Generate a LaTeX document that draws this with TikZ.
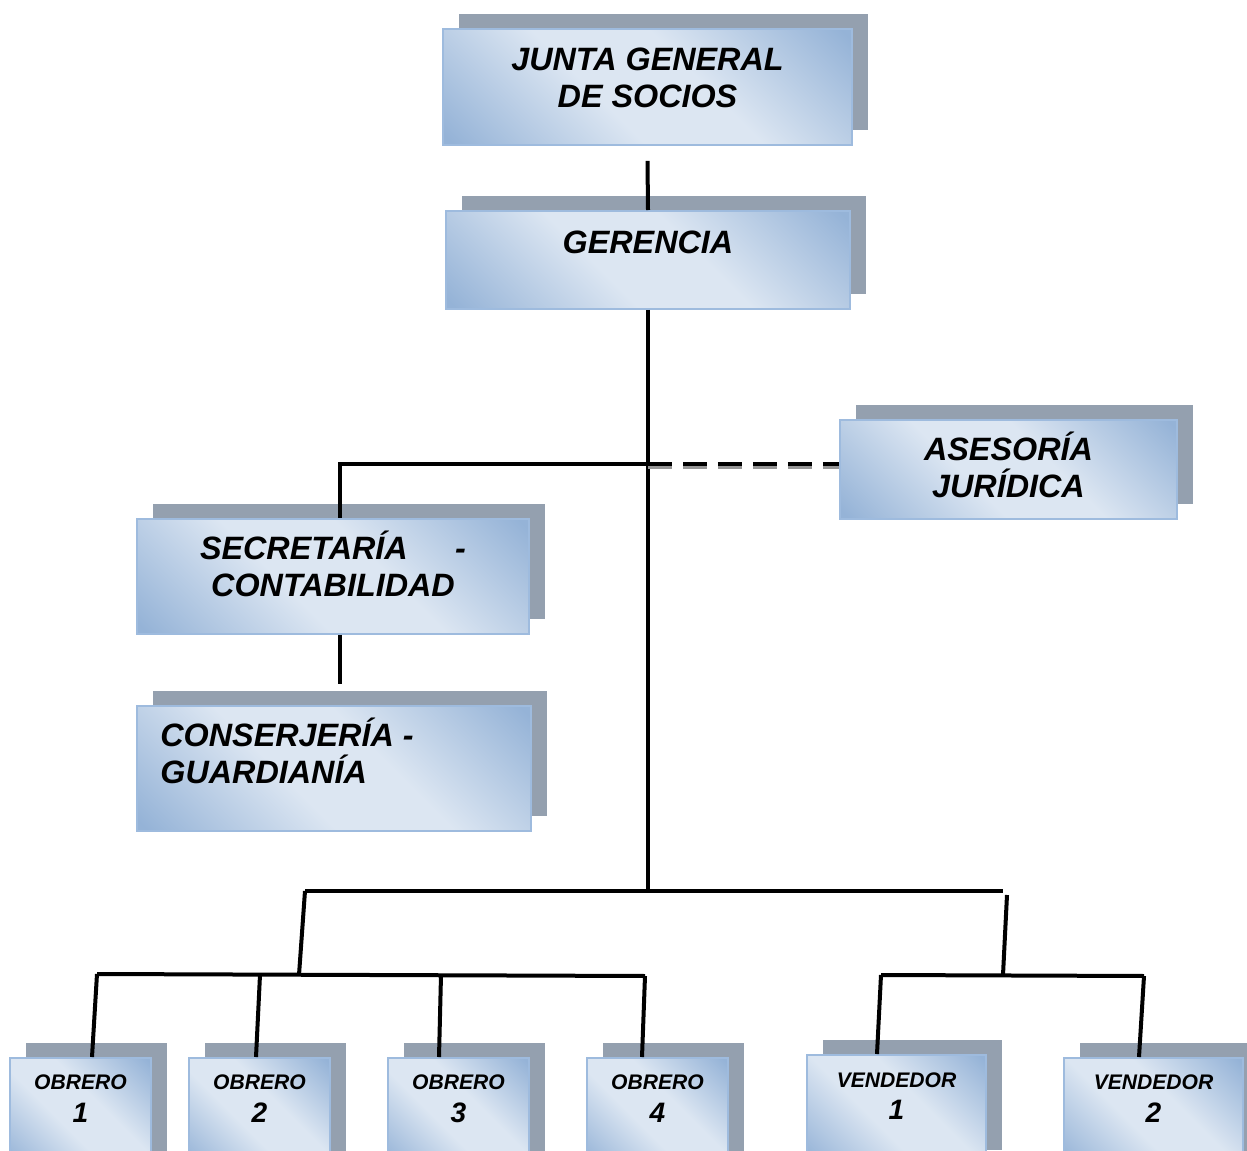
\documentclass[tikz,border=0pt]{standalone}
\usepackage{fontspec}
\setmainfont{Liberation Sans}
\usetikzlibrary{positioning,shadows}

\definecolor{boxlight}{RGB}{220,230,242}
\definecolor{boxdark}{RGB}{149,179,215}
\definecolor{boxline}{RGB}{158,187,222}
\definecolor{shadowgray}{RGB}{148,160,175}
\definecolor{dashgray}{RGB}{150,150,150}

\pgfdeclareverticalshading{boxgrad}{100bp}{color(0bp)=(boxdark); color(16bp)=(boxdark); color(42bp)=(boxlight); color(58bp)=(boxlight); color(84bp)=(boxdark); color(100bp)=(boxdark)}

\tikzset{
  orgbox/.style={rectangle, draw=boxline, line width=0.04cm, shade, shading=boxgrad, shading angle=-45,
    drop shadow={shadow xshift=0.32cm, shadow yshift=0.3cm, fill=shadowgray, opacity=1}, inner sep=0pt},
  bigtext/.style={inner sep=0pt, align=center, font=\fontsize{18.4}{21}\selectfont\bfseries\itshape},
  smalltext/.style={inner sep=0pt, align=center, font=\fontsize{12}{18.5}\selectfont\bfseries\itshape},
  conn/.style={line width=0.08cm, line join=miter},
}

\begin{document}
\begin{tikzpicture}[x=0.02cm, y=-0.02cm]
  \useasboundingbox (0,0) rectangle (1247,1151);
  \clip (0,0) rectangle (1247,1151);

  % boxes
  \node[orgbox, minimum width=8.18cm, minimum height=2.32cm] (junta) at (647.5,87) {};
  \node[orgbox, minimum width=8.08cm, minimum height=1.96cm] (gerencia) at (648,260) {};
  \node[orgbox, minimum width=6.74cm, minimum height=1.98cm] (asesoria) at (1008.5,469.5) {};
  \node[orgbox, minimum width=7.84cm, minimum height=2.30cm] (secretaria) at (333,576.5) {};
  \node[orgbox, minimum width=7.88cm, minimum height=2.50cm] (conserjeria) at (334,768.5) {};

  \node[orgbox, minimum width=2.82cm, minimum height=2.2cm] (obrero1) at (80.5,1113) {};
  \node[orgbox, minimum width=2.82cm, minimum height=2.2cm] (obrero2) at (259.5,1113) {};
  \node[orgbox, minimum width=2.82cm, minimum height=2.2cm] (obrero3) at (458.5,1113) {};
  \node[orgbox, minimum width=2.82cm, minimum height=2.2cm] (obrero4) at (657.5,1113) {};
  \node[orgbox, minimum width=3.58cm, minimum height=2.2cm] (vendedor1) at (896.5,1110) {};
  \node[orgbox, minimum width=3.58cm, minimum height=2.2cm] (vendedor2) at (1153.5,1113) {};

  % texts
  \node[bigtext, below=0.39cm of junta.north] (T_junta) {JUNTA GENERAL\\DE SOCIOS};
  \node[bigtext, below=0.41cm of gerencia.north] (T_gerencia) {GERENCIA};
  \node[bigtext, below=0.25cm of asesoria.north] (T_asesoria) {ASESORÍA\\JURÍDICA};
  \node[bigtext, below=0.26cm of secretaria.north] (T_secretaria) {SECRETARÍA\hspace{27pt}-\\CONTABILIDAD};
  \node[bigtext, align=left, below right=0.26cm and 0.48cm of conserjeria.north west] (T_conserjeria) {CONSERJERÍA -\\GUARDIANÍA};

  \node[smalltext, below=0.35cm of obrero1.north] (T_obrero1) {OBRERO\\{\fontsize{16}{19}\selectfont 1}};
  \node[smalltext, below=0.35cm of obrero2.north] (T_obrero2) {OBRERO\\{\fontsize{16}{19}\selectfont 2}};
  \node[smalltext, below=0.35cm of obrero3.north] (T_obrero3) {OBRERO\\{\fontsize{16}{19}\selectfont 3}};
  \node[smalltext, below=0.35cm of obrero4.north] (T_obrero4) {OBRERO\\{\fontsize{16}{19}\selectfont 4}};
  \node[smalltext, below=0.36cm of vendedor1.north] (T_vendedor1) {VENDEDOR\\{\fontsize{16}{19}\selectfont 1}};
  \node[smalltext, below=0.35cm of vendedor2.north] (T_vendedor2) {VENDEDOR\\{\fontsize{16}{19}\selectfont 2}};

  % junctions
  \coordinate (secJ) at (340,464);
  \coordinate (hub) at (647,891);
  \coordinate (hubL) at (305,891);
  \coordinate (hubR) at (1003,891);
  \coordinate (obJ) at (299,975);
  \coordinate (obL) at (97,974);
  \coordinate (obR) at (645,976);
  \coordinate (ob2) at (260,975);
  \coordinate (ob3) at (441,975);
  \coordinate (veTop) at (1007,895);
  \coordinate (veJ) at (1003,975);
  \coordinate (veL) at (881,975);
  \coordinate (veR) at (1144,976);

  % connectors
  \draw[conn] ([yshift=-0.3cm]junta.south) -- (gerencia.north);
  \draw[conn] (gerencia.south) -- (gerencia.south |- hub);
  \draw[conn] (gerencia.south |- secJ) -- (secJ) -- (secJ |- secretaria.north);
  \draw[dashgray, line width=0.08cm, dash pattern=on 0.48cm off 0.22cm] ([yshift=-0.06cm]gerencia.south |- secJ) -- ([yshift=-0.06cm]asesoria.west |- secJ);
  \draw[conn, dash pattern=on 0.48cm off 0.22cm] (gerencia.south |- secJ) -- (asesoria.west |- secJ);
  \draw[conn] (secJ |- secretaria.south) -- ([yshift=0.42cm]secJ |- conserjeria.north);

  \draw[conn] (hubL) -- (hubR);
  \draw[conn] (hubL) -- (obJ);
  \draw[conn] (obL) -- (obR);
  \draw[conn] (obL) -- ([xshift=0.23cm]obrero1.north);
  \draw[conn] (ob2) -- ([xshift=-0.07cm]obrero2.north);
  \draw[conn] (ob3) -- ([xshift=-0.39cm]obrero3.north);
  \draw[conn] (obR) -- ([xshift=-0.31cm]obrero4.north);

  \draw[conn] (veTop) -- (veJ);
  \draw[conn] (veL) -- (veR);
  \draw[conn] (veL) -- ([xshift=-0.39cm]vendedor1.north);
  \draw[conn] (veR) -- ([xshift=-0.29cm]vendedor2.north);
\end{tikzpicture}
\end{document}
